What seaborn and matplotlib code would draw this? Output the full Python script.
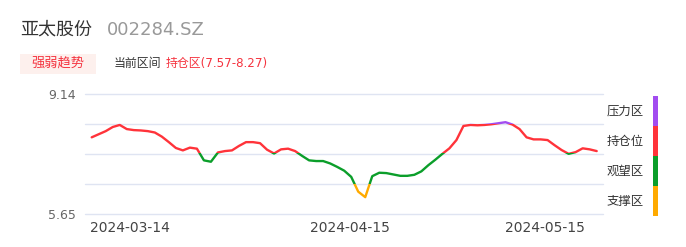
import matplotlib
matplotlib.use("Agg")
import numpy as np
import pandas as pd
import seaborn as sns
import matplotlib.pyplot as plt
from matplotlib.patches import Rectangle

# ---------------- data ----------------
stock_name = "亚太股份"
stock_code = "002284.SZ"
badge_text = "强弱趋势"
range_label = "当前区间"
range_value = "持仓区(7.57-8.27)"

y_tick_values = [5.65, 9.14]
grid_levels = [5.65, 6.5225, 7.395, 8.2675, 9.14]
x_tick_labels = ["2024-03-14", "2024-04-15", "2024-05-15"]

prices = [
    7.88, 7.97, 8.06, 8.18, 8.24, 8.12, 8.09, 8.08, 8.06, 8.02,
    7.90, 7.74, 7.57, 7.50, 7.58, 7.55, 7.21, 7.17, 7.44, 7.48,
    7.50, 7.63, 7.74, 7.74, 7.71, 7.52, 7.41, 7.53, 7.55, 7.48,
    7.34, 7.21, 7.19, 7.19, 7.12, 7.02, 6.91, 6.73, 6.30, 6.14,
    6.75, 6.85, 6.84, 6.80, 6.76, 6.76, 6.79, 6.89, 7.07, 7.23,
    7.40, 7.56, 7.80, 8.21, 8.24, 8.23, 8.24, 8.26, 8.29, 8.32,
    8.25, 8.12, 7.88, 7.82, 7.82, 7.80, 7.65, 7.51, 7.40, 7.45,
    7.56, 7.53, 7.48,
]

zone_names = ["压力区", "持仓位", "观望区", "支撑区"]
zone_colors = ["#a24cf0", "#ff333a", "#0b9e2a", "#ffaa00"]
zone_lower = [8.27, 7.42, 6.52, 0.0]
zone_upper = [99.0, 8.27, 7.42, 6.52]

# ---------------- layout ----------------
W, H = 686, 247
sns.set_theme(style="white")
plt.rcParams["font.family"] = ["DejaVu Sans", "Noto Sans CJK SC"]

fig = plt.figure(figsize=(W / 100, H / 100), dpi=100)
fig.patch.set_facecolor("white")


def fx(px):
    return px / W


def fy(py):
    return 1 - py / H


ax_left, ax_right, ax_top, ax_bottom = 85, 602.7, 94, 214
ax = fig.add_axes([fx(ax_left), fy(ax_bottom), fx(ax_right - ax_left), (ax_bottom - ax_top) / H])
ax.set_facecolor("white")

df = pd.DataFrame({"idx": np.arange(len(prices)), "price": prices})
n = len(prices)
step_px = (596.7 - 91.7) / (n - 1)

for lo, hi, col in zip(zone_lower, zone_upper, zone_colors):
    sns.lineplot(data=df, x="idx", y="price", ax=ax, color=col, linewidth=1.7,
                 solid_capstyle="round", solid_joinstyle="round")
    line = ax.lines[-1]
    clip = Rectangle((-50, lo), 300, hi - lo, transform=ax.transData)
    line.set_clip_path(clip)

ax.set_xlim(0 - (91.7 - ax_left) / step_px, (n - 1) + (ax_right - 596.7) / step_px)
ax.set_ylim(min(grid_levels), max(grid_levels))

for g in grid_levels:
    ax.axhline(g, color="#dfe4f2", linewidth=1.0, zorder=0, clip_on=False)

ax.set_yticks(y_tick_values)
ax.set_yticklabels([f"{v:.2f}" for v in y_tick_values])
tick_px = [130, 350, 545]
ax.set_xticks([(p - 91.7) / step_px for p in tick_px])
ax.set_xticklabels(x_tick_labels)
ax.tick_params(axis="y", length=0, pad=6.5, labelsize=9, labelcolor="#666666")
ax.tick_params(axis="x", length=0, pad=5, labelsize=10, labelcolor="#444444")
ax.set_xlabel("")
ax.set_ylabel("")
for s in ax.spines.values():
    s.set_visible(False)
ax.grid(False)

# ---------------- header ----------------
fig.text(fx(20), fy(30), stock_name, fontsize=13, color="#333333", va="center", ha="left")
fig.text(fx(107), fy(30), stock_code, fontsize=13, color="#999999", va="center", ha="left")

fig.add_artist(Rectangle((fx(20), fy(74)), fx(76), (74 - 53.7) / H,
                         transform=fig.transFigure, facecolor="#fdf0ed", edgecolor="none"))
fig.text(fx(58), fy(63.5), badge_text, fontsize=9.5, color="#f5333f", va="center", ha="center")
fig.text(fx(114), fy(63.5), range_label, fontsize=8.6, color="#333333", va="center", ha="left")
fig.text(fx(166), fy(63.5), range_value, fontsize=8.6, color="#f5333f", va="center", ha="left")

# ---------------- zone legend ----------------
seg_top = 96
seg_h = 30
for i, (name, col) in enumerate(zip(zone_names, zone_colors)):
    top = seg_top + i * seg_h
    fig.add_artist(Rectangle((fx(652.7), fy(top + seg_h)), fx(5), seg_h / H,
                             transform=fig.transFigure, facecolor=col, edgecolor="none"))
    fig.text(fx(607), fy(top + seg_h / 2), name, fontsize=8.9, color="#333333",
             va="center", ha="left")

fig.savefig("out.png", dpi=100)
